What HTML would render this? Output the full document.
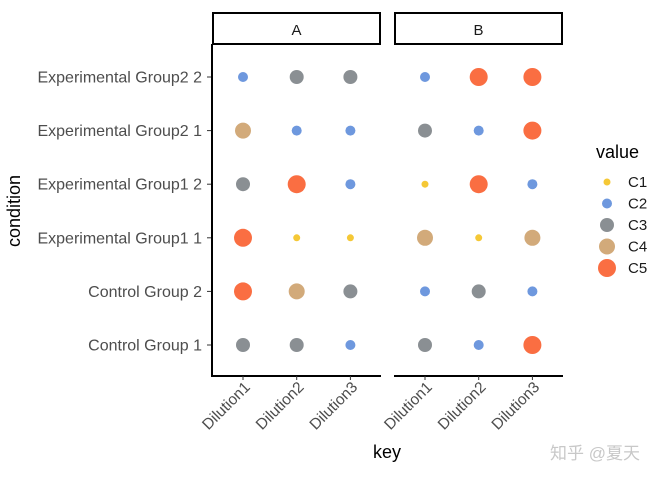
<!DOCTYPE html>
<html><head><meta charset="utf-8"><style>
body{margin:0;background:#fff}
svg{font-family:"Liberation Sans","Noto Sans CJK SC",sans-serif}
</style></head><body>
<svg id="c" width="672" height="480" xmlns="http://www.w3.org/2000/svg"></svg>
<script>
const panels=["A","B"];
const keys=["Dilution1","Dilution2","Dilution3"];
const conditions=["Control Group 1","Control Group 2","Experimental Group1 1","Experimental Group1 2","Experimental Group2 1","Experimental Group2 2"];
const levels=["C1","C2","C3","C4","C5"];
const valuesA=[["C3","C3","C2"],["C5","C4","C3"],["C5","C1","C1"],["C3","C5","C2"],["C4","C2","C2"],["C2","C3","C3"]];
const valuesB=[["C3","C2","C5"],["C2","C3","C2"],["C4","C1","C4"],["C1","C5","C2"],["C3","C2","C5"],["C2","C5","C5"]];
const colors={C1:"#F5C836",C2:"#6E98DE",C3:"#8A8F93",C4:"#D2AA7A",C5:"#FA6E42"};
const radii={C1:3.5,C2:5,C3:7,C4:8,C5:9};
const svg=document.getElementById('c');
const NS="http://www.w3.org/2000/svg";
function mk(t,a,txt){const e=document.createElementNS(NS,t);for(const k in a)e.setAttribute(k,a[k]);if(txt!=null)e.textContent=txt;svg.appendChild(e);return e;}
const panelX0=[212,394], panelW=169, plotTop=44, plotBottom=376;
function xs(p,i){return panelX0[p]+31+i*53.7;}
function ys(j){return 345-j*53.6;}
const data=[valuesA,valuesB];
panels.forEach((pn,p)=>{
  const x0=panelX0[p];
  let s=mk('rect',{x:x0+1,y:13,width:panelW-2,height:31,fill:'#fff',stroke:'#000','stroke-width':2});
  
  let t=mk('text',{x:x0+panelW/2,y:35,'text-anchor':'middle','font-size':15,fill:'#1a1a1a'},pn);
  
  let ax=mk('line',{x1:x0,y1:plotBottom,x2:x0+panelW,y2:plotBottom,stroke:'#000','stroke-width':2});
  
  keys.forEach((k,i)=>{
    const x=xs(p,i);
    mk('line',{x1:x,y1:plotBottom,x2:x,y2:plotBottom+4,stroke:'#333','stroke-width':1});
    let l=mk('text',{x:x+8,y:plotBottom+12,'text-anchor':'end','font-size':15.5,fill:'#4d4d4d',transform:`rotate(-45 ${x+8} ${plotBottom+12})`},k);
    
  });
  data[p].forEach((row,j)=>row.forEach((v,i)=>{
    let c=mk('circle',{cx:xs(p,i),cy:ys(j),r:radii[v],fill:colors[v]});
    
  }));
});
let ya=mk('line',{x1:212,y1:plotTop,x2:212,y2:plotBottom+1,stroke:'#000','stroke-width':2});

conditions.forEach((c,j)=>{
  const y=ys(j);
  mk('line',{x1:207,y1:y,x2:211,y2:y,stroke:'#333','stroke-width':1});
  let l=mk('text',{x:202,y:y+5.5,'text-anchor':'end','font-size':16,fill:'#4d4d4d'},c);
  
});
let yt=mk('text',{x:20,y:211,'text-anchor':'middle','font-size':18,fill:'#000',transform:'rotate(-90 20 211)'},'condition');

let xt=mk('text',{x:387,y:458,'text-anchor':'middle','font-size':18,fill:'#000'},'key');

let lt=mk('text',{x:596,y:158,'font-size':18,fill:'#000'},'value');

levels.forEach((v,i)=>{
  const y=182+i*21.5;
  let c=mk('circle',{cx:607,cy:y,r:radii[v],fill:colors[v]});
  
  let t=mk('text',{x:628,y:y+5,'font-size':15,fill:'#1a1a1a'},v);
  
});
let wm=mk('text',{x:550,y:459,'font-size':17,fill:'#c8c8c8'},'知乎 @夏天');

</script>
</body></html>
